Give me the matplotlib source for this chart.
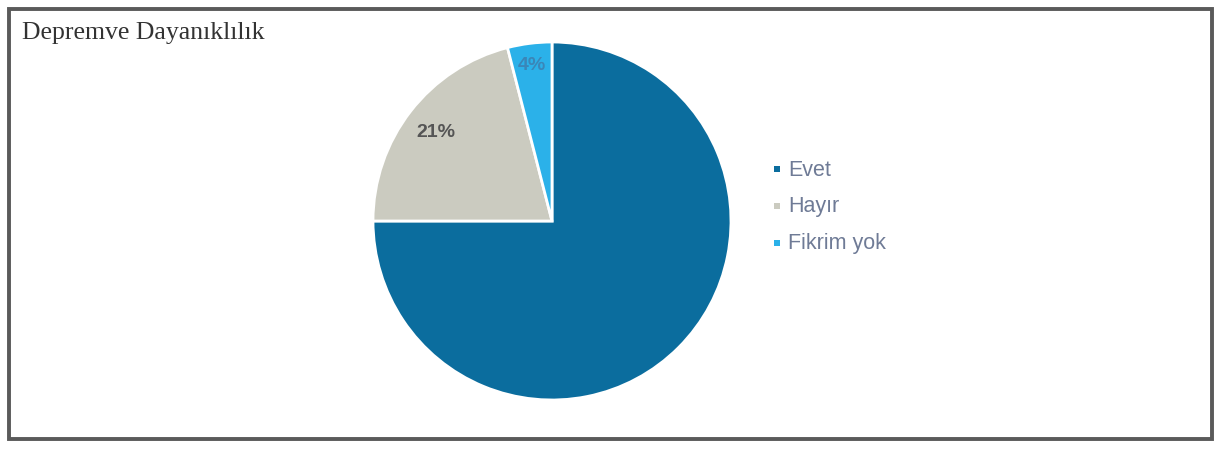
import matplotlib
matplotlib.use("Agg")
import matplotlib.pyplot as plt
from matplotlib.patches import Rectangle
import numpy as np

# Survey answers: earthquake resilience
categories = ["Evet", "Hayır", "Fikrim yok"]
shares = [75, 21, 4]
colors = ["#0b6d9e", "#cbcbc0", "#2bb1e9"]
shown_labels = [False, True, True]

W, H = 1220, 452
fig = plt.figure(figsize=(W / 100, H / 100), dpi=100)
fig.patch.set_facecolor("white")

# outer frame
frame = Rectangle((9 / W, 12 / H), 1203 / W, 430 / H, transform=fig.transFigure,
                  fill=False, edgecolor="#5a5a5a", linewidth=2.8)
fig.add_artist(frame)

fig.text(22 / W, 1 - 33 / H, "Depremve Dayanıklılık", fontsize=18.5,
         family="Liberation Serif", color="#333333", va="center", ha="left")

# pie axes: centre ~ (552, 222), radius ~ 179 px
cx, cy, r = 552, 222, 179
ax = fig.add_axes([(cx - r) / W, 1 - (cy + r) / H, 2 * r / W, 2 * r / H])
wedges, _ = ax.pie(shares, colors=colors, startangle=90, counterclock=False,
                   wedgeprops=dict(edgecolor="white", linewidth=2), radius=1.0)
ax.set_xlim(-1, 1)
ax.set_ylim(-1, 1)
ax.set_aspect("equal")
ax.axis("off")

# percentage labels placed inside the wedges
start = 90.0
label_r = [0.6, 0.82, 0.88]
label_colors = ["#0b6d9e", "#555555", "#3a86b8"]
for val, show, lr, lc in zip(shares, shown_labels, label_r, label_colors):
    span = 360.0 * val / sum(shares)
    mid = np.deg2rad(start - span / 2)
    start -= span
    if show:
        ax.text(lr * np.cos(mid), lr * np.sin(mid), f"{val}%", ha="center",
                va="center", fontsize=14, fontweight="bold", color=lc,
                family="Liberation Sans")

# legend
leg_y = [170, 207, 244]
for name, col, y in zip(categories, colors, leg_y):
    fig.patches.append(Rectangle(((777 - 3) / W, 1 - (y + 3) / H), 6 / W, 6 / H,
                                 transform=fig.transFigure, facecolor=col,
                                 edgecolor="none"))
    fig.text(788 / W, 1 - y / H, name, fontsize=15.5, color="#6f7b96",
             family="Liberation Sans", va="center", ha="left")

fig.savefig("out.png", dpi=100, facecolor="white")
